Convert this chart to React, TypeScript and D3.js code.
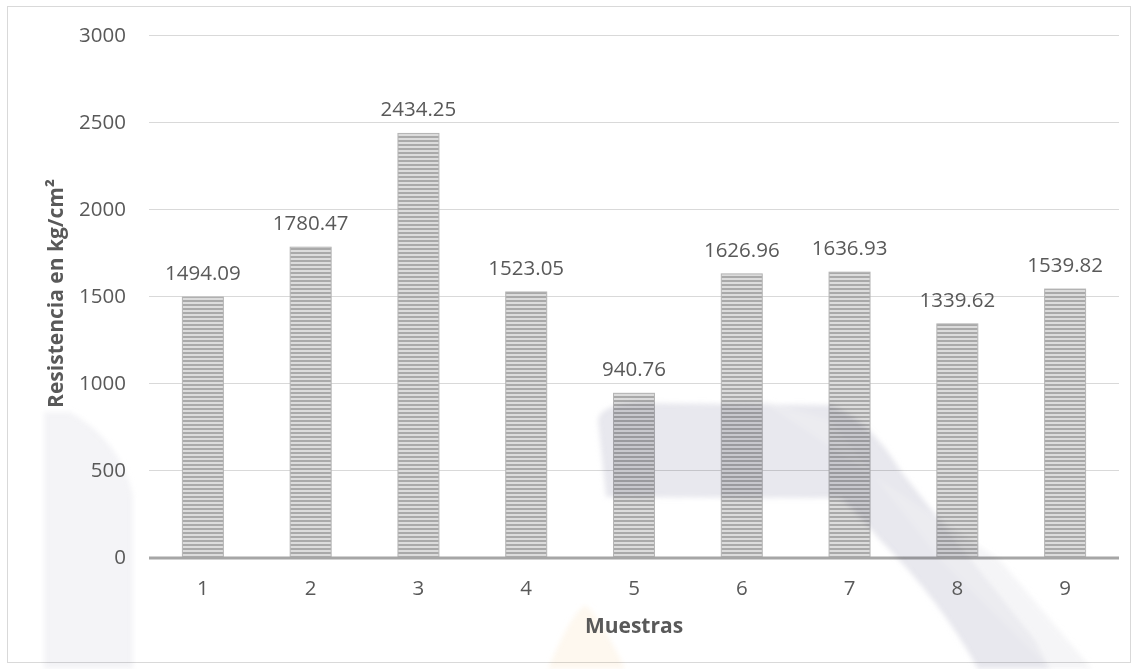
import React from "react";
import * as d3 from "d3";

// Compressive strength per sample
const muestras = ["1", "2", "3", "4", "5", "6", "7", "8", "9"];
const resistencia = [1494.09, 1780.47, 2434.25, 1523.05, 940.76, 1626.96, 1636.93, 1339.62, 1539.82];
const yTicks = [0, 500, 1000, 1500, 2000, 2500, 3000];

const W = 1138;
const H = 669;
const FONT = "'Open Sans', sans-serif";
const TEXT = "#595959";

export default function App() {
  const left = 149;
  const right = 1119;
  const top = 35;
  const bottom = 557;

  const x = d3.scaleBand<string>().domain(muestras).range([left, right]).paddingInner(0.62).paddingOuter(0.31);
  const y = d3.scaleLinear().domain([0, 3000]).range([bottom, top]);

  return (
    <svg width={W} height={H} style={{ position: "absolute", left: 0, top: 0, background: "#fff" }} fontFamily={FONT}>
      <defs>
        <pattern id="stripes" width={6} height={4} patternUnits="userSpaceOnUse">
          <rect width={6} height={4} fill="#dcdcdc" />
          <rect width={6} height={2} fill="#a9a9a9" />
        </pattern>
        <filter id="soft" x="-5%" y="-5%" width="110%" height="110%">
          <feGaussianBlur stdDeviation={2.5} />
        </filter>
      </defs>

      <rect width={W} height={H} fill="#fff" />

      {/* outer frame */}
      <rect x={7.5} y={6.5} width={1123} height={656} fill="none" stroke="#d9d9d9" strokeWidth={1} />

      {/* gridlines */}
      {yTicks.filter((t) => t > 0).map((t) => (
        <line key={t} x1={left} x2={right} y1={Math.round(y(t)) + 0.5} y2={Math.round(y(t)) + 0.5} stroke="#d9d9d9" strokeWidth={1} />
      ))}

      {/* bars */}
      {muestras.map((m, i) => {
        const bx = x(m)!;
        const by = y(resistencia[i]);
        return (
          <rect key={m} x={bx} y={by} width={x.bandwidth()} height={bottom - by} fill="url(#stripes)" stroke="#b5b5b5" strokeWidth={1} />
        );
      })}

      {/* baseline */}
      <line x1={left} x2={right} y1={bottom + 1} y2={bottom + 1} stroke="#a6a6a6" strokeWidth={3} />

      {/* faint watermark, multiplied over the plot */}
      <g style={{ mixBlendMode: "multiply" }} opacity={0.6} filter="url(#soft)">
        <path d="M44,412 L70,412 Q120,440 133,495 L133,669 L44,669 Z" fill="#ececf1" />
        <path d="M598,420 Q600,404 640,403 L830,405 Q870,420 900,470 L1035,640 L1050,669 L978,669 Q940,600 880,540 Q850,505 840,498 L606,497 Z" fill="#d8d8e2" />
        <path d="M760,400 L1000,560 L1092,669 L1050,669 L940,560 L830,420 Z" fill="#e4e4ea" opacity={0.6} />
        <path d="M548,669 Q570,615 585,605 Q600,615 625,669 Z" fill="#fdf3e4" />
      </g>

      {/* value labels */}
      {muestras.map((m, i) => (
        <text key={m} x={x(m)! + x.bandwidth() / 2} y={y(resistencia[i]) - 17} textAnchor="middle" fontSize={20.5} fill={TEXT}>
          {resistencia[i].toFixed(2)}
        </text>
      ))}

      {/* y tick labels */}
      {yTicks.map((t) => (
        <text key={t} x={126} y={y(t)} dy="0.35em" textAnchor="end" fontSize={20.5} fill={TEXT}>
          {t}
        </text>
      ))}

      {/* x tick labels */}
      {muestras.map((m) => (
        <text key={m} x={x(m)! + x.bandwidth() / 2} y={595} textAnchor="middle" fontSize={20.5} fill={TEXT}>
          {m}
        </text>
      ))}

      {/* axis titles */}
      <text x={(left + right) / 2} y={633} textAnchor="middle" fontSize={21} fontWeight="bold" fill={TEXT}>
        Muestras
      </text>
      <text transform={`translate(63,${293.5}) rotate(-90)`} textAnchor="middle" fontSize={21} fontWeight="bold" fill={TEXT}>
        Resistencia en kg/cm²
      </text>
    </svg>
  );
}
